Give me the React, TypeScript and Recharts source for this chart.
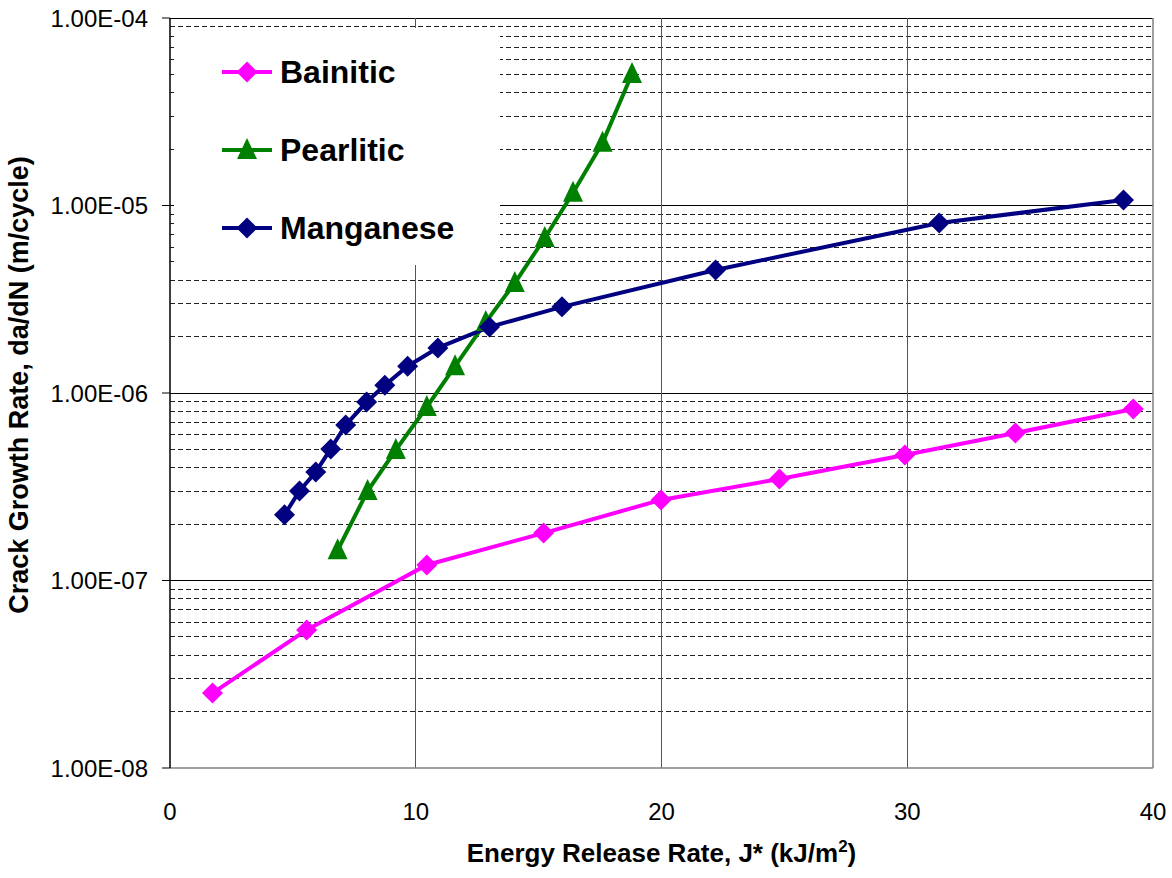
import { ComposedChart, Line, XAxis, YAxis, ReferenceLine, Legend, Label } from 'recharts'

// Energy release rate J* (kJ/m2) and crack growth rate da/dN (m/cycle)
const bainiticJ = [1.73, 5.56, 10.45, 15.2, 19.98, 24.8, 29.9, 34.4, 39.2]
const bainiticRate = [2.51e-8, 5.45e-8, 1.21e-7, 1.79e-7, 2.69e-7, 3.48e-7, 4.67e-7, 6.12e-7, 8.22e-7]

const pearliticJ = [6.82, 8.04, 9.19, 10.45, 11.6, 12.85, 14.03, 15.25, 16.4, 17.6, 18.8]
const pearliticRate = [1.45e-7, 3.0e-7, 4.97e-7, 8.42e-7, 1.39e-6, 2.39e-6, 3.86e-6, 6.71e-6, 1.17e-5, 2.16e-5, 5.03e-5]

const manganeseJ = [4.66, 5.27, 5.93, 6.54, 7.15, 8.0, 8.74, 9.67, 10.9, 13.0, 15.95, 22.2, 31.3, 38.8]
const manganeseRate = [2.24e-7, 3.0e-7, 3.79e-7, 5.03e-7, 6.75e-7, 8.95e-7, 1.1e-6, 1.39e-6, 1.74e-6, 2.25e-6, 2.88e-6, 4.53e-6, 8.07e-6, 1.07e-5]

const xTicks = [0, 10, 20, 30, 40]
const decades = [1e-8, 1e-7, 1e-6, 1e-5, 1e-4]
const minorSteps = [2, 3, 4, 5, 6, 7, 8, 9]

const FONT = 'Arial, "Liberation Sans", sans-serif'

const toPoints = (js: number[], rates: number[]) => js.map((j, i) => ({ j, rate: rates[i] }))

const series = [
  { name: 'Bainitic', color: '#FF00FF', marker: 'diamond', data: toPoints(bainiticJ, bainiticRate) },
  { name: 'Pearlitic', color: '#008000', marker: 'triangle', data: toPoints(pearliticJ, pearliticRate) },
  { name: 'Manganese', color: '#000080', marker: 'diamond', data: toPoints(manganeseJ, manganeseRate) },
]

// minor gridlines 2..9 x each decade (except the last one)
const minorLines = decades.slice(0, -1).flatMap(d => minorSteps.map(m => m * d))

function sciLabel(v: number) {
  const [m, ex] = v.toExponential(2).split('e')
  const n = Number(ex)
  return `${m}E${n < 0 ? '-' : '+'}${String(Math.abs(n)).padStart(2, '0')}`
}

function markerPath(kind: string, cx: number, cy: number) {
  if (kind === 'triangle') {
    return `M${cx},${cy - 12}L${cx + 10},${cy + 9}L${cx - 10},${cy + 9}Z`
  }
  return `M${cx},${cy - 10.5}L${cx + 10.5},${cy}L${cx},${cy + 10.5}L${cx - 10.5},${cy}Z`
}

const makeDot = (kind: string, color: string) => (props: any) => {
  const { cx, cy, index } = props
  if (cx == null || cy == null) return <g key={`n-${index}`} />
  return <path key={`${kind}-${index}`} d={markerPath(kind, cx, cy)} fill={color} stroke="none" />
}

function LegendBox() {
  return (
    <div style={{ background: '#fff', width: 326, height: 237, paddingTop: 5, boxSizing: 'border-box' }}>
      {series.map(s => (
        <div key={s.name} style={{ height: 78, display: 'flex', alignItems: 'center' }}>
          <svg width={56} height={26} style={{ marginLeft: 46 }}>
            <line x1={2} y1={13} x2={52} y2={13} stroke={s.color} strokeWidth={4} />
            <path d={markerPath(s.marker, 27, 13)} fill={s.color} />
          </svg>
          <span style={{ fontFamily: FONT, fontWeight: 'bold', fontSize: 32, color: '#000', marginLeft: 4 }}>
            {s.name}
          </span>
        </div>
      ))}
    </div>
  )
}

export default function App() {
  return (
    <div style={{ position: 'absolute', left: 0, top: 0, background: '#fff' }}>
      <ComposedChart width={1172} height={878} margin={{ top: 18, right: 19, bottom: 0, left: 0 }}>
        {minorLines.map(v => (
          <ReferenceLine key={`m-${v}`} y={v} stroke="#222" strokeDasharray="5 3" strokeWidth={1} shapeRendering="crispEdges" zIndex={-50} />
        ))}
        {decades.slice(1).map(v => (
          <ReferenceLine key={`d-${v}`} y={v} stroke="#000" strokeWidth={1} shapeRendering="crispEdges" zIndex={-40} />
        ))}
        {xTicks.slice(1, -1).map(v => (
          <ReferenceLine key={`x-${v}`} x={v} stroke="#555" strokeWidth={1} shapeRendering="crispEdges" zIndex={-40} />
        ))}
        <ReferenceLine x={40} stroke="#808080" strokeWidth={1.5} zIndex={-40} />
        <XAxis
          type="number"
          dataKey="j"
          domain={[0, 40]}
          ticks={xTicks}
          allowDataOverflow
          height={110}
          axisLine={{ stroke: '#808080', strokeWidth: 1.5 }}
          tickLine={false}
          tickSize={6}
          tickMargin={29}
          tick={{ fill: '#000', fontSize: 24, fontFamily: FONT }}
        >
          <Label
            content={(props: any) => {
              const vb = props.viewBox
              return (
                <text x={vb.x + vb.width / 2} y={vb.y + 94} textAnchor="middle" fontFamily={FONT} fontWeight="bold" fontSize={26} fill="#000">
                  Energy Release Rate, J* (kJ/m
                  <tspan dy={-10} fontSize={17}>2</tspan>
                  <tspan dy={10}>)</tspan>
                </text>
              )
            }}
          />
        </XAxis>
        <YAxis
          type="number"
          scale="log"
          domain={[1e-8, 1e-4]}
          ticks={decades}
          allowDataOverflow
          width={170}
          axisLine={{ stroke: '#000', strokeWidth: 1.5 }}
          tickLine={{ stroke: '#000' }}
          tickSize={8}
          tickMargin={14}
          tickFormatter={sciLabel}
          tick={{ fill: '#000', fontSize: 24, fontFamily: FONT }}
        >
          <Label
            content={(props: any) => {
              const vb = props.viewBox
              const cy = vb.y + vb.height / 2 - 8
              return (
                <text x={28} y={cy} transform={`rotate(-90, 28, ${cy})`} textAnchor="middle" fontFamily={FONT} fontWeight="bold" fontSize={27} fill="#000">
                  Crack Growth Rate, da/dN (m/cycle)
                </text>
              )
            }}
          />
        </YAxis>
        {series.map(s => (
          <Line
            key={s.name}
            data={s.data}
            dataKey="rate"
            name={s.name}
            type="linear"
            stroke={s.color}
            strokeWidth={4}
            dot={makeDot(s.marker, s.color)}
            activeDot={false}
            isAnimationActive={false}
          />
        ))}
        <Legend
          layout="vertical"
          align="center"
          verticalAlign="middle"
          content={() => <LegendBox />}
          wrapperStyle={{ position: 'absolute', left: 174, top: 28, width: 326, height: 237 }}
        />
      </ComposedChart>
    </div>
  )
}
